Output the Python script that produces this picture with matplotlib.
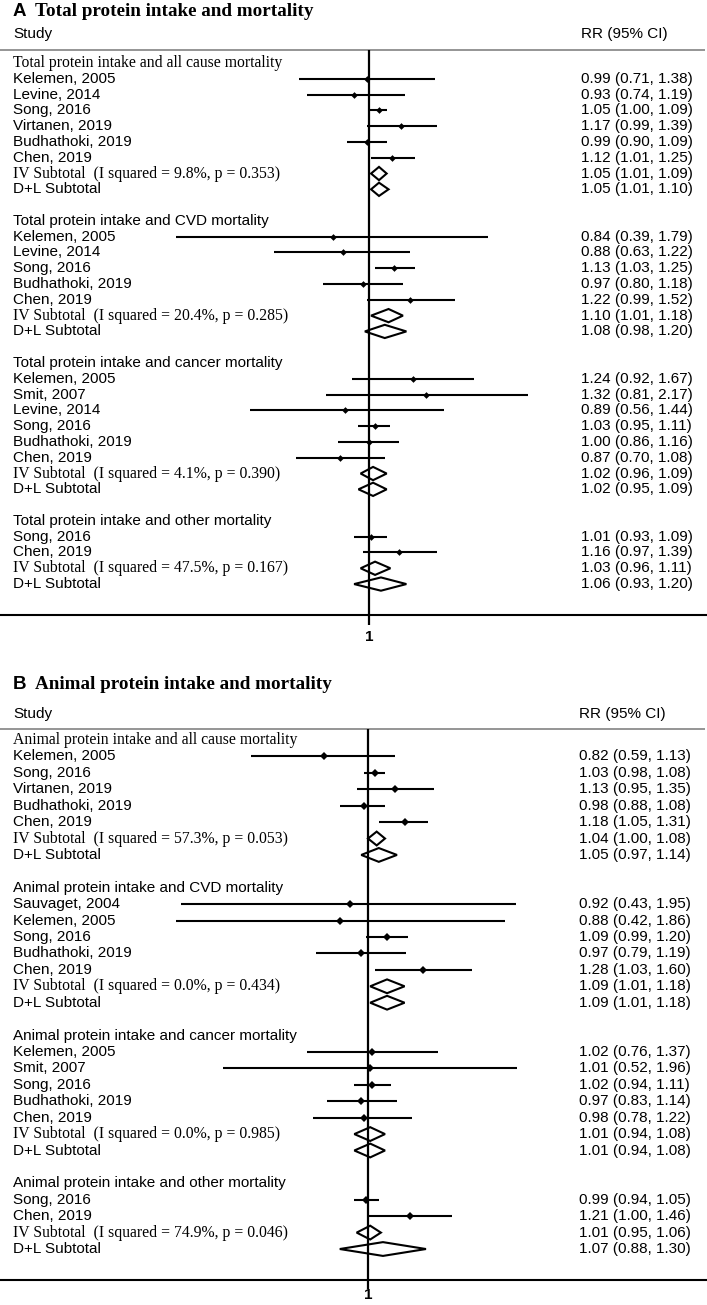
import numpy as np
import matplotlib
matplotlib.use("Agg")
import matplotlib.pyplot as plt
from matplotlib.patches import Polygon

SANS = "Liberation Sans"
SERIF = "Liberation Serif"

# ---------------- Panel A data ----------------
a_letter = "A"
a_title = "Total protein intake and mortality"
a_headers = ["Total protein intake and all cause mortality",
             "Total protein intake and CVD mortality",
             "Total protein intake and cancer mortality",
             "Total protein intake and other mortality"]
a_group = [0, 0, 0, 0, 0, 0, 1, 1, 1, 1, 1, 2, 2, 2, 2, 2, 2, 3, 3]
a_study = ["Kelemen, 2005", "Levine, 2014", "Song, 2016", "Virtanen, 2019", "Budhathoki, 2019", "Chen, 2019",
           "Kelemen, 2005", "Levine, 2014", "Song, 2016", "Budhathoki, 2019", "Chen, 2019",
           "Kelemen, 2005", "Smit, 2007", "Levine, 2014", "Song, 2016", "Budhathoki, 2019", "Chen, 2019",
           "Song, 2016", "Chen, 2019"]
a_rr = [0.99, 0.93, 1.05, 1.17, 0.99, 1.12, 0.84, 0.88, 1.13, 0.97, 1.22,
        1.24, 1.32, 0.89, 1.03, 1.00, 0.87, 1.01, 1.16]
a_lo = [0.71, 0.74, 1.00, 0.99, 0.90, 1.01, 0.39, 0.63, 1.03, 0.80, 0.99,
        0.92, 0.81, 0.56, 0.95, 0.86, 0.70, 0.93, 0.97]
a_hi = [1.38, 1.19, 1.09, 1.39, 1.09, 1.25, 1.79, 1.22, 1.25, 1.18, 1.52,
        1.67, 2.17, 1.44, 1.11, 1.16, 1.08, 1.09, 1.39]
a_iv_rr = [1.05, 1.10, 1.02, 1.03]
a_iv_lo = [1.01, 1.01, 0.96, 0.96]
a_iv_hi = [1.09, 1.18, 1.09, 1.11]
a_i2 = ["9.8%", "20.4%", "4.1%", "47.5%"]
a_p = ["0.353", "0.285", "0.390", "0.167"]
a_dl_rr = [1.05, 1.08, 1.02, 1.06]
a_dl_lo = [1.01, 0.98, 0.95, 0.93]
a_dl_hi = [1.10, 1.20, 1.09, 1.20]

# ---------------- Panel B data ----------------
b_letter = "B"
b_title = "Animal protein intake and mortality"
b_headers = ["Animal protein intake and all cause mortality",
             "Animal protein intake and CVD mortality",
             "Animal protein intake and cancer mortality",
             "Animal protein intake and other mortality"]
b_group = [0, 0, 0, 0, 0, 1, 1, 1, 1, 1, 2, 2, 2, 2, 2, 3, 3]
b_study = ["Kelemen, 2005", "Song, 2016", "Virtanen, 2019", "Budhathoki, 2019", "Chen, 2019",
           "Sauvaget, 2004", "Kelemen, 2005", "Song, 2016", "Budhathoki, 2019", "Chen, 2019",
           "Kelemen, 2005", "Smit, 2007", "Song, 2016", "Budhathoki, 2019", "Chen, 2019",
           "Song, 2016", "Chen, 2019"]
b_rr = [0.82, 1.03, 1.13, 0.98, 1.18, 0.92, 0.88, 1.09, 0.97, 1.28,
        1.02, 1.01, 1.02, 0.97, 0.98, 0.99, 1.21]
b_lo = [0.59, 0.98, 0.95, 0.88, 1.05, 0.43, 0.42, 0.99, 0.79, 1.03,
        0.76, 0.52, 0.94, 0.83, 0.78, 0.94, 1.00]
b_hi = [1.13, 1.08, 1.35, 1.08, 1.31, 1.95, 1.86, 1.20, 1.19, 1.60,
        1.37, 1.96, 1.11, 1.14, 1.22, 1.05, 1.46]
b_iv_rr = [1.04, 1.09, 1.01, 1.01]
b_iv_lo = [1.00, 1.01, 0.94, 0.95]
b_iv_hi = [1.08, 1.18, 1.08, 1.06]
b_i2 = ["57.3%", "0.0%", "0.0%", "74.9%"]
b_p = ["0.053", "0.434", "0.985", "0.046"]
b_dl_rr = [1.05, 1.09, 1.01, 1.07]
b_dl_lo = [0.97, 1.01, 0.94, 0.88]
b_dl_hi = [1.14, 1.18, 1.08, 1.30]

W, H = 707, 1305
fig = plt.figure(figsize=(W / 100, H / 100), dpi=100)
fig.patch.set_facecolor("white")

FS = 11.0
FS_SERIF = 11.3


def fmt(r, l, h):
    return f"{r:.2f} ({l:.2f}, {h:.2f})"


def draw_panel(P0, P1, lay, letter, title, headers, group, study, rr, lo, hi,
               iv_rr, iv_lo, iv_hi, i2, pv, dl_rr, dl_lo, dl_hi):
    r0, s = lay["row0"], lay["sp"]
    ax = fig.add_axes([0, 1 - P1 / H, 1, (P1 - P0) / H])
    ax.set_axis_off()
    ax.set_xscale("log")
    x1, pxu = lay["x1"], lay["pxu"]
    ax.set_xlim(np.exp(-x1 / pxu), np.exp((W - x1) / pxu))

    def row(py):
        return (py - r0) / s
    ax.set_ylim(row(P1), row(P0))
    tr = ax.get_yaxis_transform()
    xl = 13 / W
    xv = lay["xv"] / W

    # title
    ax.text(xl, row(lay["title"]), letter, transform=tr, family=SANS, fontweight="bold",
            fontsize=13.5, va="center", ha="left")
    ax.text(lay["title_x"] / W, row(lay["title"]), title, transform=tr, family=SERIF,
            fontweight="bold", fontsize=13.8, va="center", ha="left")
    ax.text(xl, row(lay["study"]), "Study", transform=tr, family=SANS, fontsize=FS,
            va="center", ha="left")
    ax.text(xv, row(lay["study"]), "RR (95% CI)", transform=tr, family=SANS, fontsize=FS,
            va="center", ha="left")
    gy = row(lay["grey"])
    ax.plot([0, 705 / W], [gy, gy], transform=tr, color="#8c8c8c", lw=1.3,
            solid_capstyle="butt")
    by = row(lay["bottom"])
    ax.plot([0, 1], [by, by], transform=tr, color="black", lw=1.5, solid_capstyle="butt")
    ax.vlines(1, gy, row(lay["tick"]), color="black", lw=1.6)
    ax.text(1, row(lay["one"]), "1", family=SANS, fontweight="bold", fontsize=FS,
            ha="center", va="center")

    r = 0
    hh = 0.42
    for g, head in enumerate(headers):
        ax.text(xl, r, head, transform=tr, family=SERIF if g == 0 else SANS,
                fontsize=FS_SERIF if g == 0 else FS, va="center", ha="left")
        r += 1
        for i in range(len(study)):
            if group[i] != g:
                continue
            ax.text(xl, r, study[i], transform=tr, family=SANS, fontsize=FS,
                    va="center", ha="left")
            ax.plot([lo[i], hi[i]], [r, r], color="black", lw=1.5, solid_capstyle="butt")
            ax.plot([rr[i]], [r], marker="D", color="black", ms=lay["ms"], mew=0)
            ax.text(xv, r, fmt(rr[i], lo[i], hi[i]), transform=tr, family=SANS,
                    fontsize=FS, va="center", ha="left")
            r += 1
        # IV subtotal
        ax.text(xl, r, f"IV Subtotal  (I squared = {i2[g]}, p = {pv[g]})", transform=tr,
                family=SERIF, fontsize=FS_SERIF, va="center", ha="left")
        ax.add_patch(Polygon([(iv_lo[g], r), (iv_rr[g], r - hh), (iv_hi[g], r), (iv_rr[g], r + hh)],
                             closed=True, fill=False, edgecolor="black", lw=1.5))
        ax.text(xv, r, fmt(iv_rr[g], iv_lo[g], iv_hi[g]), transform=tr, family=SANS,
                fontsize=FS, va="center", ha="left")
        r += 1
        ax.text(xl, r, "D+L Subtotal", transform=tr, family=SANS, fontsize=FS,
                va="center", ha="left")
        ax.add_patch(Polygon([(dl_lo[g], r), (dl_rr[g], r - hh), (dl_hi[g], r), (dl_rr[g], r + hh)],
                             closed=True, fill=False, edgecolor="black", lw=1.5))
        ax.text(xv, r, fmt(dl_rr[g], dl_lo[g], dl_hi[g]), transform=tr, family=SANS,
                fontsize=FS, va="center", ha="left")
        r += 2
    return ax


lay_a = dict(row0=63, sp=15.79, x1=369, pxu=205, xv=581, title=11, title_x=35, study=34,
             grey=50, bottom=615, tick=625, one=637, ms=3.4)
lay_b = dict(row0=740, sp=16.42, x1=368, pxu=221, xv=579, title=684, title_x=35, study=714,
             grey=729, bottom=1280, tick=1289, one=1295, ms=3.7)

draw_panel(0, 650, lay_a, a_letter, a_title, a_headers, a_group, a_study, a_rr, a_lo, a_hi,
           a_iv_rr, a_iv_lo, a_iv_hi, a_i2, a_p, a_dl_rr, a_dl_lo, a_dl_hi)
draw_panel(650, 1305, lay_b, b_letter, b_title, b_headers, b_group, b_study, b_rr, b_lo, b_hi,
           b_iv_rr, b_iv_lo, b_iv_hi, b_i2, b_p, b_dl_rr, b_dl_lo, b_dl_hi)

fig.savefig("out.png", dpi=100, facecolor="white")
